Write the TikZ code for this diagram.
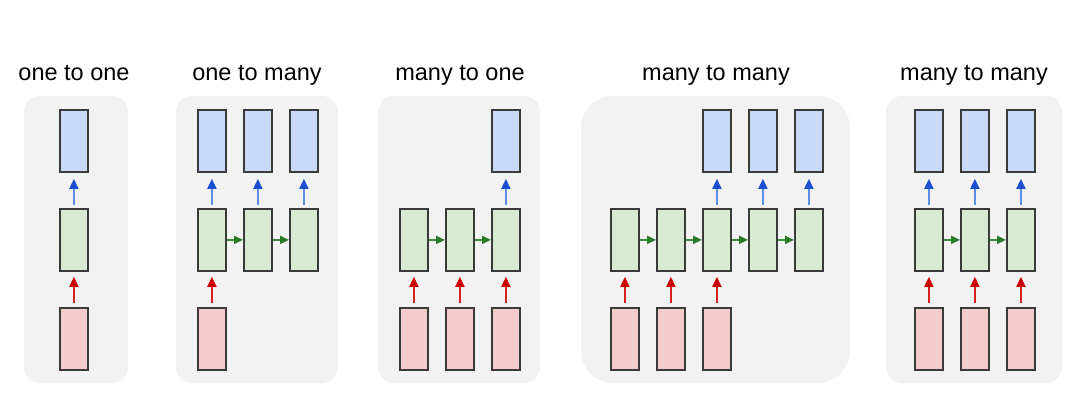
\documentclass[tikz,border=0pt]{standalone}
\usepackage{fontspec}
\setmainfont{Liberation Sans}
\usetikzlibrary{arrows.meta}
\definecolor{bgpanel}{HTML}{F2F2F2}
\definecolor{outblue}{HTML}{C9DAF8}
\definecolor{hidgreen}{HTML}{D9EAD3}
\definecolor{inred}{HTML}{F4CCCC}
\definecolor{boxline}{HTML}{3A3A3A}
\definecolor{blueline}{HTML}{5B8FE6}
\definecolor{bluehead}{HTML}{1A4FD0}
\definecolor{redline}{HTML}{D62020}
\definecolor{redhead}{HTML}{CC0000}
\definecolor{greenline}{HTML}{3C8A3C}
\definecolor{greenhead}{HTML}{2A7A2A}
\tikzset{
  cell/.style={draw=boxline, line width=1.8pt, minimum width=28pt, minimum height=62pt, inner sep=0pt, anchor=north west},
  outcell/.style={cell, fill=outblue},
  hidcell/.style={cell, fill=hidgreen},
  incell/.style={cell, fill=inred},
  panel/.style={fill=bgpanel},
  ttl/.style={font=\fontsize{23.5}{27}\selectfont, anchor=base},
  uparrowb/.style={draw=blueline, line width=1.8pt, -{Triangle[length=10pt,width=9pt,color=bluehead]}},
  uparrowr/.style={draw=redline, line width=1.8pt, -{Triangle[length=10pt,width=9pt,color=redhead]}},
  rarrowg/.style={draw=greenline, line width=1.8pt, -{Triangle[length=9pt,width=8pt,color=greenhead]}},
}
\begin{document}
\begin{tikzpicture}[x=1pt,y=-1pt]
\useasboundingbox (0,0) rectangle (1092,420);
\fill[white] (0,0) rectangle (1092,420);
% panels
\fill[panel, rounded corners=16pt] (24,96) rectangle (128,383);
\fill[panel, rounded corners=16pt] (176,96) rectangle (338,383);
\fill[panel, rounded corners=16pt] (378,96) rectangle (540,383);
\fill[panel, rounded corners=32pt] (581,96) rectangle (850,383);
\fill[panel, rounded corners=16pt] (886,96) rectangle (1062,383);
% titles
\node[ttl] (t1) at (74,81) {one to one};
\node[ttl] (t2) at (257,81) {one to many};
\node[ttl] (t3) at (460,81) {many to one};
\node[ttl] (t4) at (716,81) {many to many};
\node[ttl] (t5) at (974,81) {many to many};

% panel 1
\node[outcell] (ab1) at (59,109) {};
\node[hidcell] (ag1) at (59,208) {};
\node[incell] (ar1) at (59,307) {};
\draw[uparrowb] ([yshift=3pt]ag1.north) -- ([yshift=-6pt]ab1.south);
\draw[uparrowr] ([yshift=4pt]ar1.north) -- ([yshift=-5pt]ag1.south);

% panel 2
\foreach \i/\x in {1/197,2/243,3/289}{
  \node[outcell] (bb\i) at (\x,109) {};
  \node[hidcell] (bg\i) at (\x,208) {};
  \draw[uparrowb] ([yshift=3pt]bg\i.north) -- ([yshift=-6pt]bb\i.south);
}
\node[incell] (br1) at (197,307) {};
\draw[uparrowr] ([yshift=4pt]br1.north) -- ([yshift=-5pt]bg1.south);
\draw[rarrowg] (bg1.east) -- (bg2.west);
\draw[rarrowg] (bg2.east) -- (bg3.west);

% panel 3
\foreach \i/\x in {1/399,2/445,3/491}{
  \node[hidcell] (cg\i) at (\x,208) {};
  \node[incell] (cr\i) at (\x,307) {};
  \draw[uparrowr] ([yshift=4pt]cr\i.north) -- ([yshift=-5pt]cg\i.south);
}
\node[outcell] (cb3) at (491,109) {};
\draw[uparrowb] ([yshift=3pt]cg3.north) -- ([yshift=-6pt]cb3.south);
\draw[rarrowg] (cg1.east) -- (cg2.west);
\draw[rarrowg] (cg2.east) -- (cg3.west);

% panel 4
\foreach \i/\x in {1/610,2/656,3/702,4/748,5/794}{
  \node[hidcell] (dg\i) at (\x,208) {};
}
\foreach \i/\x in {1/610,2/656,3/702}{
  \node[incell] (dr\i) at (\x,307) {};
  \draw[uparrowr] ([yshift=4pt]dr\i.north) -- ([yshift=-5pt]dg\i.south);
}
\foreach \i/\x in {3/702,4/748,5/794}{
  \node[outcell] (db\i) at (\x,109) {};
  \draw[uparrowb] ([yshift=3pt]dg\i.north) -- ([yshift=-6pt]db\i.south);
}
\draw[rarrowg] (dg1.east) -- (dg2.west);
\draw[rarrowg] (dg2.east) -- (dg3.west);
\draw[rarrowg] (dg3.east) -- (dg4.west);
\draw[rarrowg] (dg4.east) -- (dg5.west);

% panel 5
\foreach \i/\x in {1/914,2/960,3/1006}{
  \node[outcell] (eb\i) at (\x,109) {};
  \node[hidcell] (eg\i) at (\x,208) {};
  \node[incell] (er\i) at (\x,307) {};
  \draw[uparrowb] ([yshift=3pt]eg\i.north) -- ([yshift=-6pt]eb\i.south);
  \draw[uparrowr] ([yshift=4pt]er\i.north) -- ([yshift=-5pt]eg\i.south);
}
\draw[rarrowg] (eg1.east) -- (eg2.west);
\draw[rarrowg] (eg2.east) -- (eg3.west);
\end{tikzpicture}
\end{document}
